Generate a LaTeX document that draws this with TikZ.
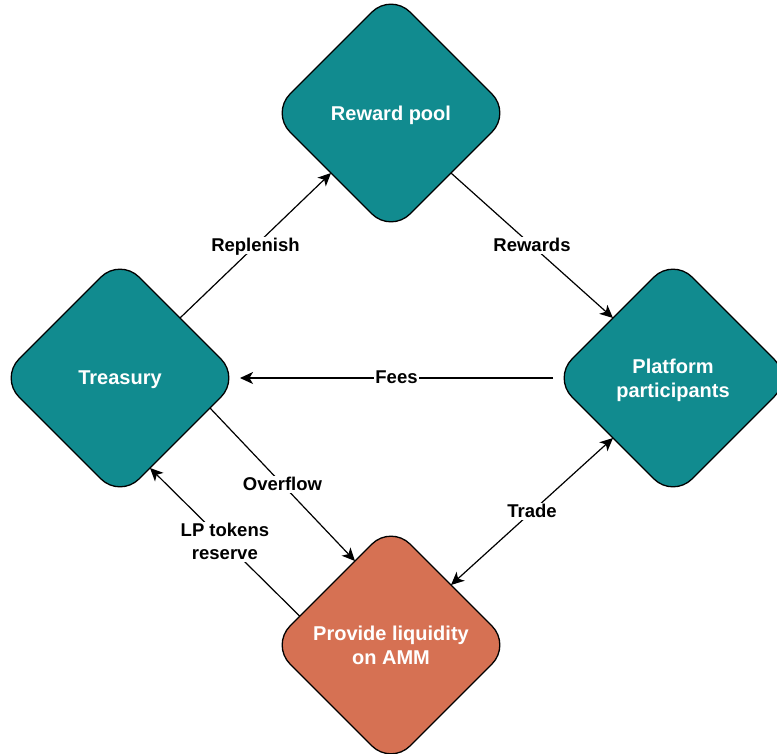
\documentclass[tikz,border=0pt]{standalone}
\usepackage{fontspec}
\setmainfont{Liberation Sans}
\usetikzlibrary{shapes.geometric,arrows.meta,calc}
\definecolor{tealfill}{RGB}{17,139,143}
\definecolor{orangefill}{RGB}{214,113,83}
\tikzset{
  dnode/.style={diamond, aspect=1, draw=black, line width=1.3pt, rounded corners=27pt,
    minimum width=240pt, minimum height=240pt, inner sep=0pt, outer sep=0pt, text depth=0pt,
    text=white, font=\bfseries\fontsize{20}{24}\selectfont, align=center},
  conn/.style={draw=black, line width=1.2pt, -{Stealth[length=13pt,width=12pt,inset=3.5pt]}},
  lbl/.style={fill=white, inner sep=1.5pt, text depth=1pt, font=\bfseries\fontsize{18.5}{23}\selectfont, align=center, text=black}
}
\begin{document}
\begin{tikzpicture}[x=1pt,y=-1pt]
\useasboundingbox (0,0) rectangle (777,753);
\clip (0,0) rectangle (777,753);
\node[dnode, fill=tealfill] (reward) at (391,113) {Reward pool};
\node[dnode, fill=tealfill] (treasury) at (120,378) {Treasury};
\node[dnode, fill=tealfill] (platform) at (673,378) {Platform\\participants};
\node[dnode, fill=orangefill] (amm) at (391,645) {Provide liquidity\\on AMM};

\coordinate (ovs) at ($(treasury.east)!0.25!(treasury.south)$);
\coordinate (ove) at ($(amm.north)!0.3!(amm.west)$);
\coordinate (lps) at ($(amm.west)!0.24!(amm.north)$);
\coordinate (lpe) at ($(treasury.south)!0.25!(treasury.east)$);

\draw[conn] (treasury.north east) -- node[lbl] {Replenish} (reward.south west);
\draw[conn] (reward.south east) -- node[lbl] {Rewards} (platform.north west);
\draw[conn] (platform.west) -- node[lbl] {Fees} (treasury.east);
\draw[conn] (ovs) -- node[lbl] {Overflow} (ove);
\draw[conn] (lps) -- node[lbl] {LP tokens\\reserve} (lpe);
\draw[conn, {Stealth[length=13pt,width=12pt,inset=3.5pt]}-{Stealth[length=13pt,width=12pt,inset=3.5pt]}] (amm.north east) -- node[lbl] {Trade} (platform.south west);
\end{tikzpicture}
\end{document}
